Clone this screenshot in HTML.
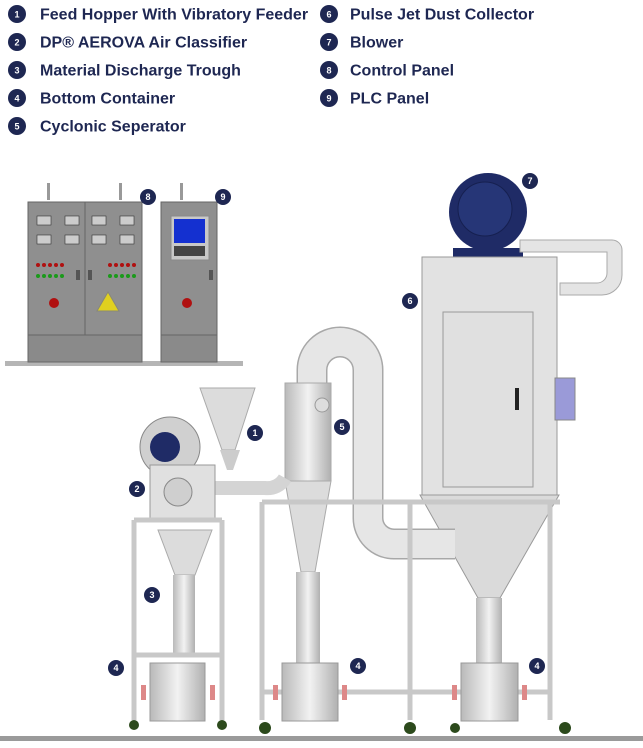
<!DOCTYPE html>
<html><head><meta charset="utf-8"><style>
body{margin:0;background:#fff;width:643px;height:748px;overflow:hidden;font-family:"Liberation Sans",sans-serif}
svg{display:block}
.t{font-family:"Liberation Sans",sans-serif;font-weight:bold;font-size:16px;fill:#1e2752}
.b{font-family:"Liberation Sans",sans-serif;font-weight:bold;font-size:9px;fill:#fff;text-anchor:middle}
</style></head><body>
<svg width="643" height="748" viewBox="0 0 643 748" xmlns="http://www.w3.org/2000/svg">
<defs>
<linearGradient id="pipe" x1="0" x2="1"><stop offset="0" stop-color="#b9b9b9"/><stop offset=".5" stop-color="#f2f2f2"/><stop offset="1" stop-color="#b0b0b0"/></linearGradient>
</defs>
<!-- legend -->
<g>
<circle cx="17" cy="14" r="9" fill="#1e2752"/><text class="b" x="17" y="17.5">1</text><text class="t" x="40" y="19.5">Feed Hopper With Vibratory Feeder</text>
<circle cx="17" cy="42" r="9" fill="#1e2752"/><text class="b" x="17" y="45.5">2</text><text class="t" x="40" y="47.5">DP® AEROVA Air Classifier</text>
<circle cx="17" cy="70" r="9" fill="#1e2752"/><text class="b" x="17" y="73.5">3</text><text class="t" x="40" y="75.5">Material Discharge Trough</text>
<circle cx="17" cy="98" r="9" fill="#1e2752"/><text class="b" x="17" y="101.5">4</text><text class="t" x="40" y="103.5">Bottom Container</text>
<circle cx="17" cy="126" r="9" fill="#1e2752"/><text class="b" x="17" y="129.5">5</text><text class="t" x="40" y="131.5">Cyclonic Seperator</text>
<circle cx="329" cy="14" r="9" fill="#1e2752"/><text class="b" x="329" y="17.5">6</text><text class="t" x="350" y="19.5">Pulse Jet Dust Collector</text>
<circle cx="329" cy="42" r="9" fill="#1e2752"/><text class="b" x="329" y="45.5">7</text><text class="t" x="350" y="47.5">Blower</text>
<circle cx="329" cy="70" r="9" fill="#1e2752"/><text class="b" x="329" y="73.5">8</text><text class="t" x="350" y="75.5">Control Panel</text>
<circle cx="329" cy="98" r="9" fill="#1e2752"/><text class="b" x="329" y="101.5">9</text><text class="t" x="350" y="103.5">PLC Panel</text>
</g>
<!-- panels -->
<rect x="5" y="361" width="238" height="5" fill="#b5b5b5"/>
<rect x="28" y="202" width="114" height="160" fill="#8f8f8f" stroke="#666"/>
<line x1="85" y1="202" x2="85" y2="335" stroke="#666"/>
<rect x="28" y="335" width="114" height="27" fill="#8a8a8a" stroke="#666"/>
<rect x="161" y="202" width="56" height="160" fill="#8f8f8f" stroke="#666"/>
<rect x="161" y="335" width="56" height="27" fill="#8a8a8a" stroke="#666"/>
<g fill="#ccc" stroke="#333" stroke-width=".6">
<rect x="37" y="216" width="14" height="9"/><rect x="65" y="216" width="14" height="9"/><rect x="92" y="216" width="14" height="9"/><rect x="120" y="216" width="14" height="9"/>
<rect x="37" y="235" width="14" height="9"/><rect x="65" y="235" width="14" height="9"/><rect x="92" y="235" width="14" height="9"/><rect x="120" y="235" width="14" height="9"/>
</g>
<g fill="#b01010"><circle cx="38" cy="265" r="2"/><circle cx="44" cy="265" r="2"/><circle cx="50" cy="265" r="2"/><circle cx="56" cy="265" r="2"/><circle cx="62" cy="265" r="2"/>
<circle cx="110" cy="265" r="2"/><circle cx="116" cy="265" r="2"/><circle cx="122" cy="265" r="2"/><circle cx="128" cy="265" r="2"/><circle cx="134" cy="265" r="2"/>
<circle cx="54" cy="303" r="5"/><circle cx="187" cy="303" r="5"/></g>
<g fill="#1a9a1a"><circle cx="38" cy="276" r="2"/><circle cx="44" cy="276" r="2"/><circle cx="50" cy="276" r="2"/><circle cx="56" cy="276" r="2"/><circle cx="62" cy="276" r="2"/>
<circle cx="110" cy="276" r="2"/><circle cx="116" cy="276" r="2"/><circle cx="122" cy="276" r="2"/><circle cx="128" cy="276" r="2"/><circle cx="134" cy="276" r="2"/></g>
<polygon points="108,292 97,311 119,311" fill="#e0d020" stroke="#887"/>
<rect x="76" y="270" width="4" height="10" fill="#555"/><rect x="88" y="270" width="4" height="10" fill="#555"/><rect x="209" y="270" width="4" height="10" fill="#555"/>
<rect x="171" y="216" width="38" height="44" fill="#c8c8c8" stroke="#888"/>
<rect x="174" y="219" width="31" height="24" fill="#1430d0"/>
<rect x="174" y="246" width="31" height="10" fill="#444"/>
<g fill="#999"><rect x="47" y="183" width="3" height="17"/><rect x="119" y="183" width="3" height="17"/><rect x="180" y="183" width="3" height="17"/></g>
<!-- blower -->
<circle cx="488" cy="212" r="39" fill="#1f2b66"/>
<circle cx="485" cy="209" r="27" fill="#263677" stroke="#162050"/>
<rect x="453" y="248" width="70" height="9" fill="#1f2b66"/>
<path d="M520,240 H612 a10,10 0 0 1 10,10 V275 a20,20 0 0 1 -20,20 H560 V283 H597 a10,10 0 0 0 10,-10 V252 H520Z" fill="#e4e4e4" stroke="#aaa"/>
<!-- dust collector -->
<rect x="422" y="257" width="135" height="238" fill="#e2e2e2" stroke="#999"/>
<rect x="443" y="312" width="90" height="175" fill="#e0e0e0" stroke="#999"/>
<rect x="515" y="388" width="4" height="22" fill="#222"/>
<rect x="555" y="378" width="20" height="42" fill="#9a9ad8" stroke="#888"/>
<polygon points="420,495 559,495 500,598 478,598" fill="#dadada" stroke="#999"/>
<rect x="476" y="598" width="26" height="65" fill="url(#pipe)"/>
<!-- cyclone loop pipe -->
<path d="M312,390 V370 a28,28 0 0 1 56,0 V518 a26,26 0 0 0 26,26 H455" fill="none" stroke="#a8a8a8" stroke-width="31"/>
<path d="M312,390 V370 a28,28 0 0 1 56,0 V518 a26,26 0 0 0 26,26 H455" fill="none" stroke="#e6e6e6" stroke-width="28"/>
<!-- cyclone -->
<rect x="285" y="383" width="46" height="98" fill="url(#pipe)" stroke="#aaa"/>
<polygon points="285,481 331,481 315,572 301,572" fill="#dcdcdc" stroke="#aaa"/>
<rect x="296" y="572" width="24" height="92" fill="url(#pipe)"/>
<circle cx="322" cy="405" r="7" fill="#ddd" stroke="#999"/>
<!-- classifier -->
<circle cx="170" cy="447" r="30" fill="#d0d0d0" stroke="#888"/>
<circle cx="165" cy="447" r="15" fill="#1f2b66"/>
<path d="M212,488 H265 a20,20 0 0 0 20,-10" stroke="#d4d4d4" stroke-width="14" fill="none"/>
<rect x="150" y="465" width="65" height="55" fill="#e0e0e0" stroke="#999"/>
<circle cx="178" cy="492" r="14" fill="#cfcfcf" stroke="#888"/>
<polygon points="200,388 255,388 235,450 222,450" fill="#dcdcdc" stroke="#aaa"/>
<polygon points="220,450 240,450 233,470 227,470" fill="#ccc"/>
<polygon points="158,530 212,530 195,575 175,575" fill="#dcdcdc" stroke="#aaa"/>
<rect x="173" y="575" width="22" height="80" fill="url(#pipe)"/>
<!-- frames -->
<g fill="none" stroke="#c8c8c8" stroke-width="5">
<path d="M134,520 V720 M222,520 V720 M134,520 H222 M134,655 H222"/>
<path d="M262,502 V720 M410,502 V720 M262,502 H560 M550,502 V720 M262,692 H550"/>
</g>
<!-- containers -->
<g fill="url(#pipe)" stroke="#999">
<rect x="150" y="663" width="55" height="58"/>
<rect x="282" y="663" width="56" height="58"/>
<rect x="461" y="663" width="57" height="58"/>
</g>
<g fill="#d88"><rect x="141" y="685" width="5" height="15"/><rect x="210" y="685" width="5" height="15"/><rect x="273" y="685" width="5" height="15"/><rect x="342" y="685" width="5" height="15"/><rect x="452" y="685" width="5" height="15"/><rect x="522" y="685" width="5" height="15"/></g>
<g fill="#2c4a1c"><circle cx="134" cy="725" r="5"/><circle cx="222" cy="725" r="5"/><circle cx="265" cy="728" r="6"/><circle cx="410" cy="728" r="6"/><circle cx="565" cy="728" r="6"/><circle cx="455" cy="728" r="5"/></g>
<rect x="0" y="736" width="643" height="5" fill="#9a9a9a"/>
<!-- badges -->
<g>
<circle cx="255" cy="433" r="8" fill="#1e2752"/><text class="b" x="255" y="436">1</text>
<circle cx="137" cy="489" r="8" fill="#1e2752"/><text class="b" x="137" y="492">2</text>
<circle cx="152" cy="595" r="8" fill="#1e2752"/><text class="b" x="152" y="598">3</text>
<circle cx="116" cy="668" r="8" fill="#1e2752"/><text class="b" x="116" y="671">4</text>
<circle cx="358" cy="666" r="8" fill="#1e2752"/><text class="b" x="358" y="669">4</text>
<circle cx="537" cy="666" r="8" fill="#1e2752"/><text class="b" x="537" y="669">4</text>
<circle cx="342" cy="427" r="8" fill="#1e2752"/><text class="b" x="342" y="430">5</text>
<circle cx="410" cy="301" r="8" fill="#1e2752"/><text class="b" x="410" y="304">6</text>
<circle cx="530" cy="181" r="8" fill="#1e2752"/><text class="b" x="530" y="184">7</text>
<circle cx="148" cy="197" r="8" fill="#1e2752"/><text class="b" x="148" y="200">8</text>
<circle cx="223" cy="197" r="8" fill="#1e2752"/><text class="b" x="223" y="200">9</text>
</g>
</svg>
</body></html>
